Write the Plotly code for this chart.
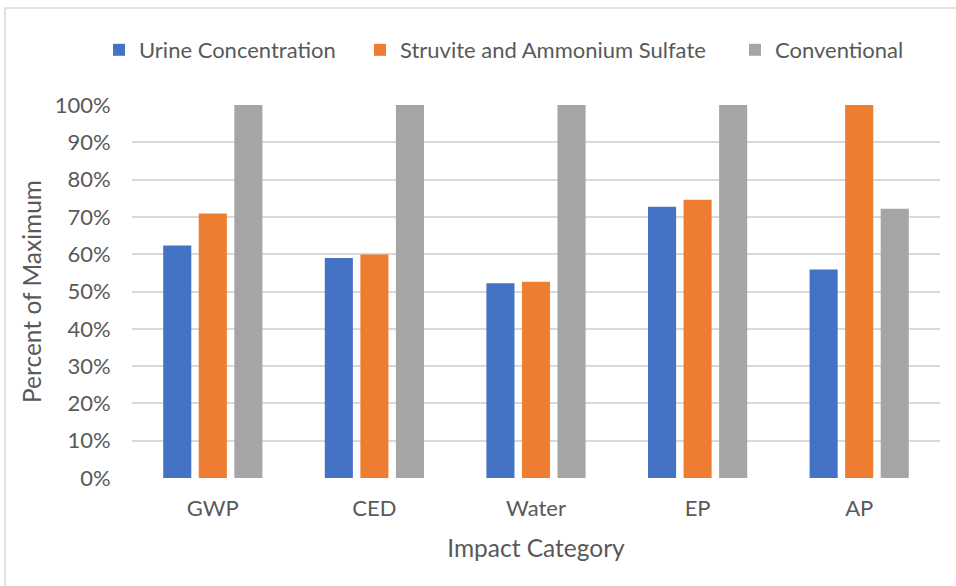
import plotly.graph_objects as go

# Impact categories and normalised results (fraction of the maximum scenario)
categories = ["GWP", "CED", "Water", "EP", "AP"]
urine_concentration = [0.623, 0.590, 0.522, 0.727, 0.559]
struvite_ammonium_sulfate = [0.709, 0.599, 0.526, 0.746, 1.000]
conventional = [1.000, 1.000, 1.000, 1.000, 0.722]

y_ticks = [0, 0.1, 0.2, 0.3, 0.4, 0.5, 0.6, 0.7, 0.8, 0.9, 1.0]
y_tick_labels = [f"{int(round(v * 100))}%" for v in y_ticks]

series = [
    ("Urine Concentration", urine_concentration, "#4472C4", "legend"),
    ("Struvite and Ammonium Sulfate", struvite_ammonium_sulfate, "#ED7D31", "legend2"),
    ("Conventional", conventional, "#A5A5A5", "legend3"),
]

FONT = "Lato"
TEXT = "#595959"

# plot area in pixels: x 132..940, y 105..478
PL, PR, PT, PB = 132, 940, 105, 478
W, H = 956, 586


def px_x(p):
    return (p - PL) / (PR - PL)


def px_y(p):
    return (PB - p) / (PB - PT)


fig = go.Figure()
for name, values, color, leg in series:
    fig.add_trace(go.Bar(
        x=categories, y=values, name=name, legend=leg,
        marker=dict(color=color, line=dict(width=0)),
    ))

legend_common = dict(
    orientation="h", yanchor="middle", y=px_y(50), xanchor="left",
    font=dict(family=FONT, size=22, color=TEXT),
    bgcolor="rgba(0,0,0,0)", borderwidth=0, itemwidth=30,
)

fig.update_layout(
    width=W, height=H,
    margin=dict(l=PL, r=W - PR, t=PT, b=H - PB, autoexpand=False),
    paper_bgcolor="white", plot_bgcolor="white",
    barmode="group", bargap=0.34, bargroupgap=0.21,
    font=dict(family=FONT, size=22, color=TEXT),
    showlegend=True,
    legend=dict(legend_common, x=px_x(117 - 18)),
    legend2=dict(legend_common, x=px_x(378 - 18)),
    legend3=dict(legend_common, x=px_x(753 - 18)),
    xaxis=dict(
        showgrid=False, showline=False, zeroline=False,
        ticks="outside", ticklen=11, tickcolor="rgba(0,0,0,0)",
        tickfont=dict(family=FONT, size=22, color=TEXT),
        title=dict(text="Impact Category", font=dict(family=FONT, size=24.5, color=TEXT), standoff=19),
    ),
    yaxis=dict(
        range=[0, 1.0], tickvals=y_ticks, ticktext=y_tick_labels,
        showgrid=True, gridcolor="#D9D9D9", gridwidth=1.5,
        zeroline=False, showline=False,
        ticks="outside", ticklen=16, tickcolor="rgba(0,0,0,0)",
        tickfont=dict(family=FONT, size=22, color=TEXT),
        title=dict(text="Percent of Maximum", font=dict(family=FONT, size=24.5, color=TEXT), standoff=6),
    ),
    shapes=[dict(
        type="rect", xref="paper", yref="paper",
        x0=px_x(5), x1=px_x(962), y0=px_y(592), y1=px_y(8),
        line=dict(color="#D9D9D9", width=1.5), fillcolor="rgba(0,0,0,0)", layer="below",
    )],
)

fig.write_html("out.html")
